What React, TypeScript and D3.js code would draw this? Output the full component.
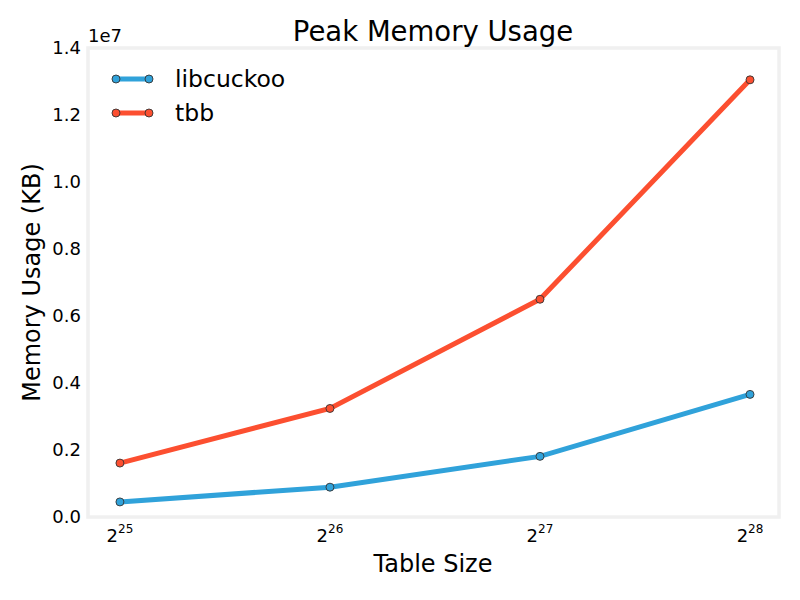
import React from "react";
import * as d3 from "d3";

const exponents = [25, 26, 27, 28];
const libcuckoo = [0.45e6, 0.89e6, 1.81e6, 3.66e6];
const tbb = [1.61e6, 3.24e6, 6.5e6, 13.05e6];
const yTicks = [0, 0.2e7, 0.4e7, 0.6e7, 0.8e7, 1.0e7, 1.2e7, 1.4e7];
const seriesNames = ["libcuckoo", "tbb"];
const colors = ["#30a2da", "#fc4f30"];

export default function App() {
  const W = 800, H = 600;
  const left = 88, right = 779, top = 48, bottom = 517;
  const x = d3.scaleLinear().domain([24.848, 28.138]).range([left, right]);
  const y = d3.scaleLinear().domain([0, 1.4e7]).range([bottom, top]);
  const font = "DejaVu Sans, sans-serif";
  const line = d3.line<number>().x((_, i) => x(exponents[i])).y((d) => y(d));
  const series = [libcuckoo, tbb];
  return (
    <svg width={W} height={H} style={{ position: "absolute", left: 0, top: 0, background: "#fff" }} fontFamily={font}>
      <rect x={left} y={top} width={right - left} height={bottom - top} fill="#fff" stroke="#f0f0f0" strokeWidth={3.5} />
      {yTicks.map((t) => (
        <text key={t} x={left - 7} y={y(t)} dy="0.36em" textAnchor="end" fontSize={18}>
          {(t / 1e7).toFixed(1)}
        </text>
      ))}
      <text x={left} y={top - 6} fontSize={18}>1e7</text>
      {exponents.map((e) => (
        <text key={e} x={x(e)} y={542} textAnchor="middle" fontSize={18}>
          2<tspan dy={-9.5} fontSize={12}>{e}</tspan>
        </text>
      ))}
      {series.map((s, si) => (
        <g key={si}>
          <path d={line(s) || ""} fill="none" stroke={colors[si]} strokeWidth={5} />
          {s.map((v, i) => (
            <circle key={i} cx={x(exponents[i])} cy={y(v)} r={4} fill={colors[si]} stroke="#333" strokeWidth={0.9} />
          ))}
        </g>
      ))}
      {seriesNames.map((n, i) => {
        const ly = 79 + i * 34;
        return (
          <g key={n}>
            <line x1={116} x2={149} y1={ly} y2={ly} stroke={colors[i]} strokeWidth={5} />
            <circle cx={116} cy={ly} r={4} fill={colors[i]} stroke="#333" strokeWidth={0.9} />
            <circle cx={149} cy={ly} r={4} fill={colors[i]} stroke="#333" strokeWidth={0.9} />
            <text x={175} y={ly} dy="0.35em" fontSize={23.5}>{n}</text>
          </g>
        );
      })}
      <text x={433} y={41} textAnchor="middle" fontSize={27.5}>Peak Memory Usage</text>
      <text x={433} y={572} textAnchor="middle" fontSize={24}>Table Size</text>
      <text transform={`translate(40,${(top + bottom) / 2}) rotate(-90)`} textAnchor="middle" fontSize={24}>Memory Usage (KB)</text>
    </svg>
  );
}
